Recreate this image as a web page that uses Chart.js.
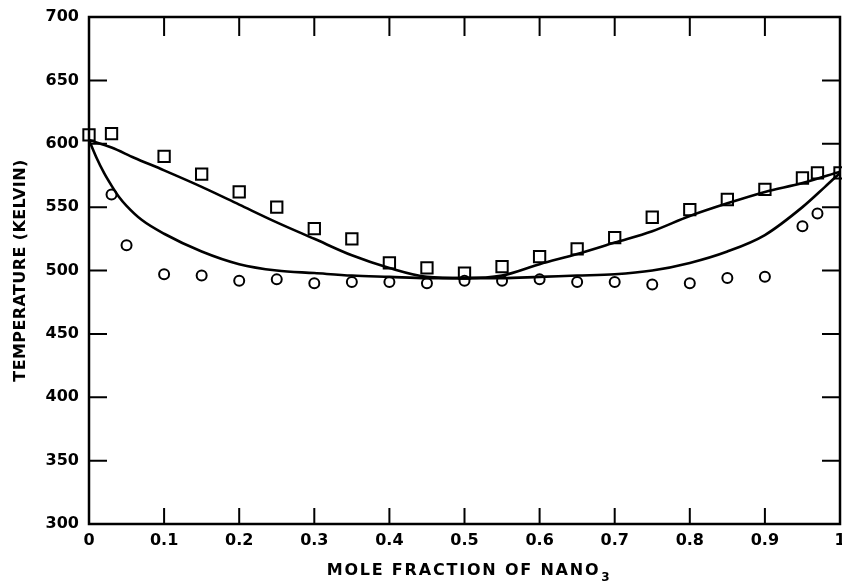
<!DOCTYPE html>
<html>
<head>
<meta charset="utf-8">
<script src="https://cdn.jsdelivr.net/npm/chart.js@4.4.1/dist/chart.umd.min.js"></script>
<style>
  html, body { margin: 0; padding: 0; background: #fff; }
  #wrap { width: 842px; height: 582px; position: relative; }
</style>
</head>
<body>
<div id="wrap"><canvas id="c"></canvas></div>
<script>
// ---- Data ----
// Liquidus measurements (squares)
const liquidusX = [0, 0.03, 0.1, 0.15, 0.2, 0.25, 0.3, 0.35, 0.4, 0.45, 0.5, 0.55, 0.6, 0.65, 0.7, 0.75, 0.8, 0.85, 0.9, 0.95, 0.97, 1.0];
const liquidusT = [607, 608, 590, 576, 562, 550, 533, 525, 506, 502, 498, 503, 511, 517, 526, 542, 548, 556, 564, 573, 577, 577];
// Solidus measurements (circles)
const solidusX = [0.03, 0.05, 0.1, 0.15, 0.2, 0.25, 0.3, 0.35, 0.4, 0.45, 0.5, 0.55, 0.6, 0.65, 0.7, 0.75, 0.8, 0.85, 0.9, 0.95, 0.97];
const solidusT = [560, 520, 497, 496, 492, 493, 490, 491, 491, 490, 492, 492, 493, 491, 491, 489, 490, 494, 495, 535, 545];
// Calculated liquidus curve (upper line)
const upperX = [0, 0.03, 0.06, 0.1, 0.15, 0.2, 0.25, 0.3, 0.35, 0.4, 0.45, 0.5, 0.55, 0.6, 0.65, 0.7, 0.75, 0.8, 0.85, 0.9, 0.95, 1.0];
const upperT = [603, 597, 589, 579, 566, 552, 538, 525, 512, 502, 495, 494, 496, 505, 513, 522, 531, 543, 553, 562, 569, 578];
// Calculated solidus curve (lower line)
const lowerX = [0, 0.01, 0.02, 0.03, 0.04, 0.05, 0.07, 0.1, 0.15, 0.2, 0.25, 0.3, 0.35, 0.4, 0.45, 0.5, 0.55, 0.6, 0.65, 0.7, 0.75, 0.8, 0.85, 0.9, 0.95, 0.98, 1.0];
const lowerT = [603, 589, 577, 567, 558, 551, 540, 529, 515, 505, 500, 498, 496, 495, 494, 494, 494, 495, 496, 497, 500, 506, 515, 528, 550, 566, 577];
// Axis ranges / tick marks
const xMin = 0, xMax = 1, xStep = 0.1;
const yMin = 300, yMax = 700, yStep = 50;
const xTickMarks = [0.1, 0.2, 0.3, 0.4, 0.5, 0.6, 0.7, 0.8, 0.9];
const yTickMarks = [350, 400, 450, 500, 550, 600, 650];
const xTitle = 'MOLE FRACTION OF NANO';
const xTitleSub = '3';
const yTitle = 'TEMPERATURE (KELVIN)';

const toPts = (xs, ys) => xs.map((x, i) => ({ x: x, y: ys[i] }));

const framePlugin = {
  id: 'frame',
  beforeDatasetsDraw(chart) {
    const { ctx, chartArea: a, scales } = chart;
    ctx.save();
    ctx.strokeStyle = '#000';
    ctx.lineWidth = 2.5;
    ctx.strokeRect(a.left, a.top, a.right - a.left, a.bottom - a.top);
    ctx.lineWidth = 2;
    ctx.beginPath();
    yTickMarks.forEach(v => {
      const py = scales.y.getPixelForValue(v);
      ctx.moveTo(a.left, py); ctx.lineTo(a.left + 18, py);
      ctx.moveTo(a.right - 18, py); ctx.lineTo(a.right, py);
    });
    xTickMarks.forEach(v => {
      const px = scales.x.getPixelForValue(v);
      ctx.moveTo(px, a.bottom); ctx.lineTo(px, a.bottom - 16);
      ctx.moveTo(px, a.top); ctx.lineTo(px, a.top + 19);
    });
    ctx.stroke();
    ctx.restore();
  },
  afterDraw(chart) {
    const { ctx, chartArea: a } = chart;
    ctx.save();
    ctx.fillStyle = '#000';
    // x title
    ctx.font = 'bold 16px "DejaVu Sans"';
    ctx.letterSpacing = '1.8px';
    ctx.textBaseline = 'alphabetic';
    ctx.textAlign = 'left';
    const w = ctx.measureText(xTitle).width;
    const cx = (a.left + a.right) / 2 + 4;
    const startX = cx - (w + 10) / 2;
    ctx.fillText(xTitle, startX, 575);
    ctx.font = 'bold 12px "DejaVu Sans"';
    ctx.letterSpacing = '0px';
    ctx.fillText(xTitleSub, startX + w + 1, 581);
    // y title
    ctx.font = 'bold 16px "DejaVu Sans"';
    ctx.letterSpacing = '0.4px';
    ctx.translate(21, (a.top + a.bottom) / 2);
    ctx.rotate(-Math.PI / 2);
    ctx.textAlign = 'center';
    ctx.textBaseline = 'middle';
    ctx.fillText(yTitle, 0, 0);
    ctx.restore();
  }
};

const tickFont = { family: '"DejaVu Sans"', size: 16, weight: 'bold' };

new Chart(document.getElementById('c'), {
  type: 'scatter',
  data: {
    datasets: [
      {
        type: 'line', data: toPts(upperX, upperT), borderColor: '#000', borderWidth: 2.6,
        pointRadius: 0, cubicInterpolationMode: 'monotone', fill: false
      },
      {
        type: 'line', data: toPts(lowerX, lowerT), borderColor: '#000', borderWidth: 2.6,
        pointRadius: 0, cubicInterpolationMode: 'monotone', fill: false
      },
      {
        data: toPts(liquidusX, liquidusT), pointStyle: 'rect', pointRadius: 8,
        borderColor: '#000', backgroundColor: 'rgba(255,255,255,0)', pointBorderWidth: 2, clip: false
      },
      {
        data: toPts(solidusX, solidusT), pointStyle: 'circle', pointRadius: 5,
        borderColor: '#000', backgroundColor: 'rgba(255,255,255,0)', pointBorderWidth: 2, clip: false
      }
    ]
  },
  options: {
    responsive: true,
    maintainAspectRatio: false,
    animation: false,
    events: [],
    layout: { autoPadding: false, padding: { top: 17, right: 2, left: 0, bottom: 0 } },
    plugins: { legend: { display: false }, tooltip: { enabled: false } },
    scales: {
      x: {
        type: 'linear', min: xMin, max: xMax,
        grid: { display: false, drawTicks: false },
        border: { display: false },
        ticks: {
          stepSize: xStep, color: '#000', font: tickFont, padding: 7, maxRotation: 0,
          callback: v => (v === 0 ? '0' : (Math.abs(v - 1) < 1e-9 ? '1' : v.toFixed(1)))
        },
        afterFit: s => { s.height = 58; s.paddingLeft = 0; s.paddingRight = 0; }
      },
      y: {
        type: 'linear', min: yMin, max: yMax,
        grid: { display: false, drawTicks: false },
        border: { display: false },
        ticks: { stepSize: yStep, color: '#000', font: tickFont, padding: 10 },
        afterFit: s => { s.width = 89; s.paddingTop = 0; s.paddingBottom = 0; }
      }
    }
  },
  plugins: [framePlugin]
});
</script>
</body>
</html>
